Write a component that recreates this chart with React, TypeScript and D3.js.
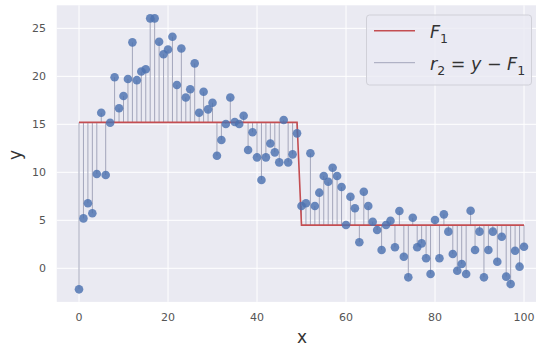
import React from "react";
import * as d3 from "d3";

// observed y for x = 0..100
const yValues = [
  -2.19, 5.2, 6.77, 5.73, 9.82, 16.2, 9.72, 15.17, 19.9, 16.67,
  17.95, 19.72, 23.54, 19.6, 20.5, 20.73, 26.04, 26.04, 23.6, 22.3,
  22.8, 24.13, 19.1, 22.9, 17.8, 18.65, 21.35, 16.2, 18.4, 16.56,
  17.25, 11.73, 13.36, 15.03, 17.8, 15.24, 15.03, 15.9, 12.32, 14.17,
  11.56, 9.2, 11.56, 13.0, 12.08, 11.04, 15.45, 11.04, 11.87, 14.06,
  6.49, 6.77, 11.98, 6.49, 7.88, 9.61, 9.02, 10.48, 9.61, 8.47,
  4.51, 7.46, 6.25, 2.71, 7.98, 6.49, 4.85, 3.99, 1.91, 4.51,
  4.96, 2.19, 5.97, 1.21, -0.94, 5.27, 2.19, 2.6, 1.04, -0.59,
  5.03, 1.04, 5.62, 3.82, 1.49, -0.25, 0.45, -0.59, 6.0, 1.91,
  3.82, -0.94, 1.91, 3.82, 0.69, 3.29, -0.87, -1.64, 1.83, 0.17,
  2.25,
];

// first-stage fit: one level per split
const f1Split = 50;
const f1Levels = [15.2, 4.5];

const xTicks = [0, 20, 40, 60, 80, 100];
const yTicks = [0, 5, 10, 15, 20, 25];

const W = 536;
const H = 347;

const App: React.FC = () => {
  const x = d3.scaleLinear().domain([-5, 105]).range([56.75, 546.25]);
  const y = d3.scaleLinear().domain([-3.5, 27.4]).range([301.9, 5.3]);

  const points = yValues.map((v, i) => ({
    x: i,
    y: v,
    f: i < f1Split ? f1Levels[0] : f1Levels[1],
  }));

  const line = d3
    .line<{ x: number; f: number }>()
    .x((d) => x(d.x))
    .y((d) => y(d.f));

  const [x0, x1] = x.range();
  const [y0, y1] = y.range();

  return (
    <svg
      width={W}
      height={H}
      style={{ position: "absolute", left: 0, top: 0 }}
      fontFamily="DejaVu Sans, sans-serif"
    >
      <rect width={W} height={H} fill="#ffffff" />
      <rect x={x0} y={y1} width={x1 - x0} height={y0 - y1} fill="#eaeaf2" />

      {/* grid */}
      {xTicks.map((t) => (
        <line key={"gx" + t} x1={x(t)} x2={x(t)} y1={y1} y2={y0} stroke="#fff" strokeWidth={1} />
      ))}
      {yTicks.map((t) => (
        <line key={"gy" + t} x1={x0} x2={x1} y1={y(t)} y2={y(t)} stroke="#fff" strokeWidth={1} />
      ))}

      {/* residuals */}
      {points.map((d) => (
        <line
          key={"r" + d.x}
          x1={x(d.x)}
          x2={x(d.x)}
          y1={y(d.y)}
          y2={y(d.f)}
          stroke="#a3a6bb"
          strokeWidth={1}
        />
      ))}

      {/* F1 */}
      <path d={line(points) || ""} fill="none" stroke="#c44e52" strokeWidth={1.6} />

      {/* points */}
      {points.map((d) => (
        <circle key={"p" + d.x} cx={x(d.x)} cy={y(d.y)} r={4.3} fill="#4c72b0" fillOpacity={0.82} />
      ))}

      {/* tick labels */}
      {xTicks.map((t) => (
        <text key={"tx" + t} x={x(t)} y={321} textAnchor="middle" fontSize={11} fill="#555">
          {t}
        </text>
      ))}
      {yTicks.map((t) => (
        <text key={"ty" + t} x={46} y={y(t) + 4} textAnchor="end" fontSize={11} fill="#555">
          {t}
        </text>
      ))}

      <text x={302} y={343} textAnchor="middle" fontSize={17} fill="#333">
        x
      </text>
      <text
        transform="translate(21,155) rotate(-90)"
        textAnchor="middle"
        fontSize={17}
        fill="#333"
      >
        y
      </text>

      {/* legend */}
      <rect
        x={366.5}
        y={15}
        width={165}
        height={70}
        rx={3}
        fill="#eaeaf2"
        fillOpacity={0.8}
        stroke="#d0d0d8"
        strokeWidth={1}
      />
      <line x1={374} x2={415} y1={30.7} y2={30.7} stroke="#c44e52" strokeWidth={1.6} />
      <line x1={374} x2={415} y1={62.7} y2={62.7} stroke="#a3a6bb" strokeWidth={1} />
      <text x={430} y={38} fontSize={17.5} fill="#333">
        <tspan fontStyle="italic">F</tspan>
        <tspan fontSize={12.5} dy={5}>1</tspan>
      </text>
      <text x={430} y={70} fontSize={17.5} fill="#333">
        <tspan fontStyle="italic">r</tspan>
        <tspan fontSize={12.5} dy={5}>2</tspan>
        <tspan dy={-5}> = </tspan>
        <tspan fontStyle="italic">y</tspan>
        <tspan> − </tspan>
        <tspan fontStyle="italic">F</tspan>
        <tspan fontSize={12.5} dy={5}>1</tspan>
      </text>
    </svg>
  );
};

export default App;
